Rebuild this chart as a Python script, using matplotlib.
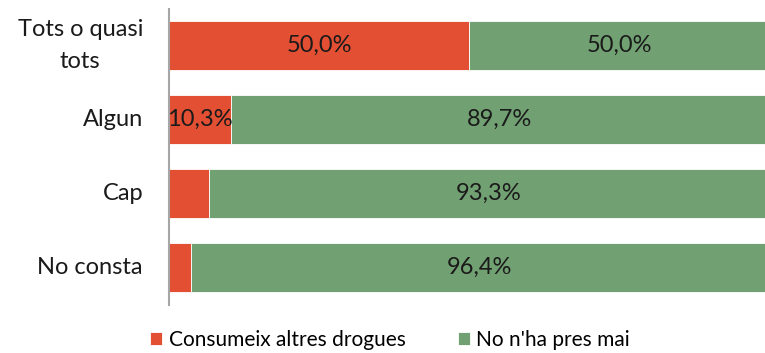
import matplotlib.pyplot as plt
import matplotlib.transforms as mtransforms
import numpy as np

categories = ["Tots o quasi\ntots", "Algun", "Cap", "No consta"]
consumeix = [50.0, 10.3, 6.7, 3.6]
no_pres = [50.0, 89.7, 93.3, 96.4]
show_consumeix = [True, True, False, False]
show_no_pres = [True, True, True, True]
series_names = ["Consumeix altres drogues", "No n'ha pres mai"]

red = "#E24F33"
green = "#71A072"

plt.rcParams["font.family"] = "Lato"

fig = plt.figure(figsize=(7.65, 3.53), dpi=100)
ax = fig.add_axes([169 / 765, 1 - 304.5 / 353, 600 / 765, 296 / 353])

y = np.arange(len(categories))
h = 0.66
b1 = ax.barh(y, consumeix, height=h, color=red, edgecolor="white", linewidth=0.6,
             label=series_names[0])
b2 = ax.barh(y, no_pres, left=consumeix, height=h, color=green, edgecolor="white",
             linewidth=0.6, label=series_names[1])

def fmt(v):
    return f"{v:.1f}%".replace(".", ",")

for i in range(len(categories)):
    if show_consumeix[i]:
        ax.text(consumeix[i] / 2, y[i], fmt(consumeix[i]), ha="center", va="center",
                fontsize=17, color="#1a1a1a")
    if show_no_pres[i]:
        ax.text(consumeix[i] + no_pres[i] / 2, y[i], fmt(no_pres[i]), ha="center",
                va="center", fontsize=17, color="#1a1a1a")

ax.set_xlim(0, 100)
ax.set_ylim(len(categories) - 0.5, -0.5)
ax.set_yticks(y)
ax.set_yticklabels([])
ax.tick_params(axis="y", length=0)
ax.set_xticks([])

# category labels: right-aligned block, each line centred within the block
renderer = fig.canvas.get_renderer()
lab_tr = ax.get_yaxis_transform()
pad_px = 26
for yi, cat in zip(y, categories):
    lines = cat.split("\n")
    probes = [ax.text(0, 0, ln, fontsize=17) for ln in lines]
    block_w = max(p.get_window_extent(renderer).width for p in probes)
    for p in probes:
        p.remove()
    line_h = 32
    n = len(lines)
    for k, ln in enumerate(lines):
        dy = (k - (n - 1) / 2) * line_h
        tr = mtransforms.offset_copy(lab_tr, fig=fig, x=-(pad_px + block_w / 2) * 72 / fig.dpi,
                                     y=-dy * 72 / fig.dpi, units="points")
        ax.text(0, yi, ln, transform=tr, ha="center", va="center",
                fontsize=17, color="#1a1a1a")

for side in ["top", "right", "bottom"]:
    ax.spines[side].set_visible(False)
ax.spines["left"].set_color("#a6a6a6")
ax.spines["left"].set_linewidth(1.5)

fig.legend(handles=[b1, b2], labels=series_names, loc="center", ncol=2,
           bbox_to_anchor=(390 / 765, 1 - 340 / 353), frameon=False, fontsize=15,
           handlelength=0.6, handleheight=0.6, handletextpad=0.3, columnspacing=2.5)

fig.savefig("out.png", dpi=100)
